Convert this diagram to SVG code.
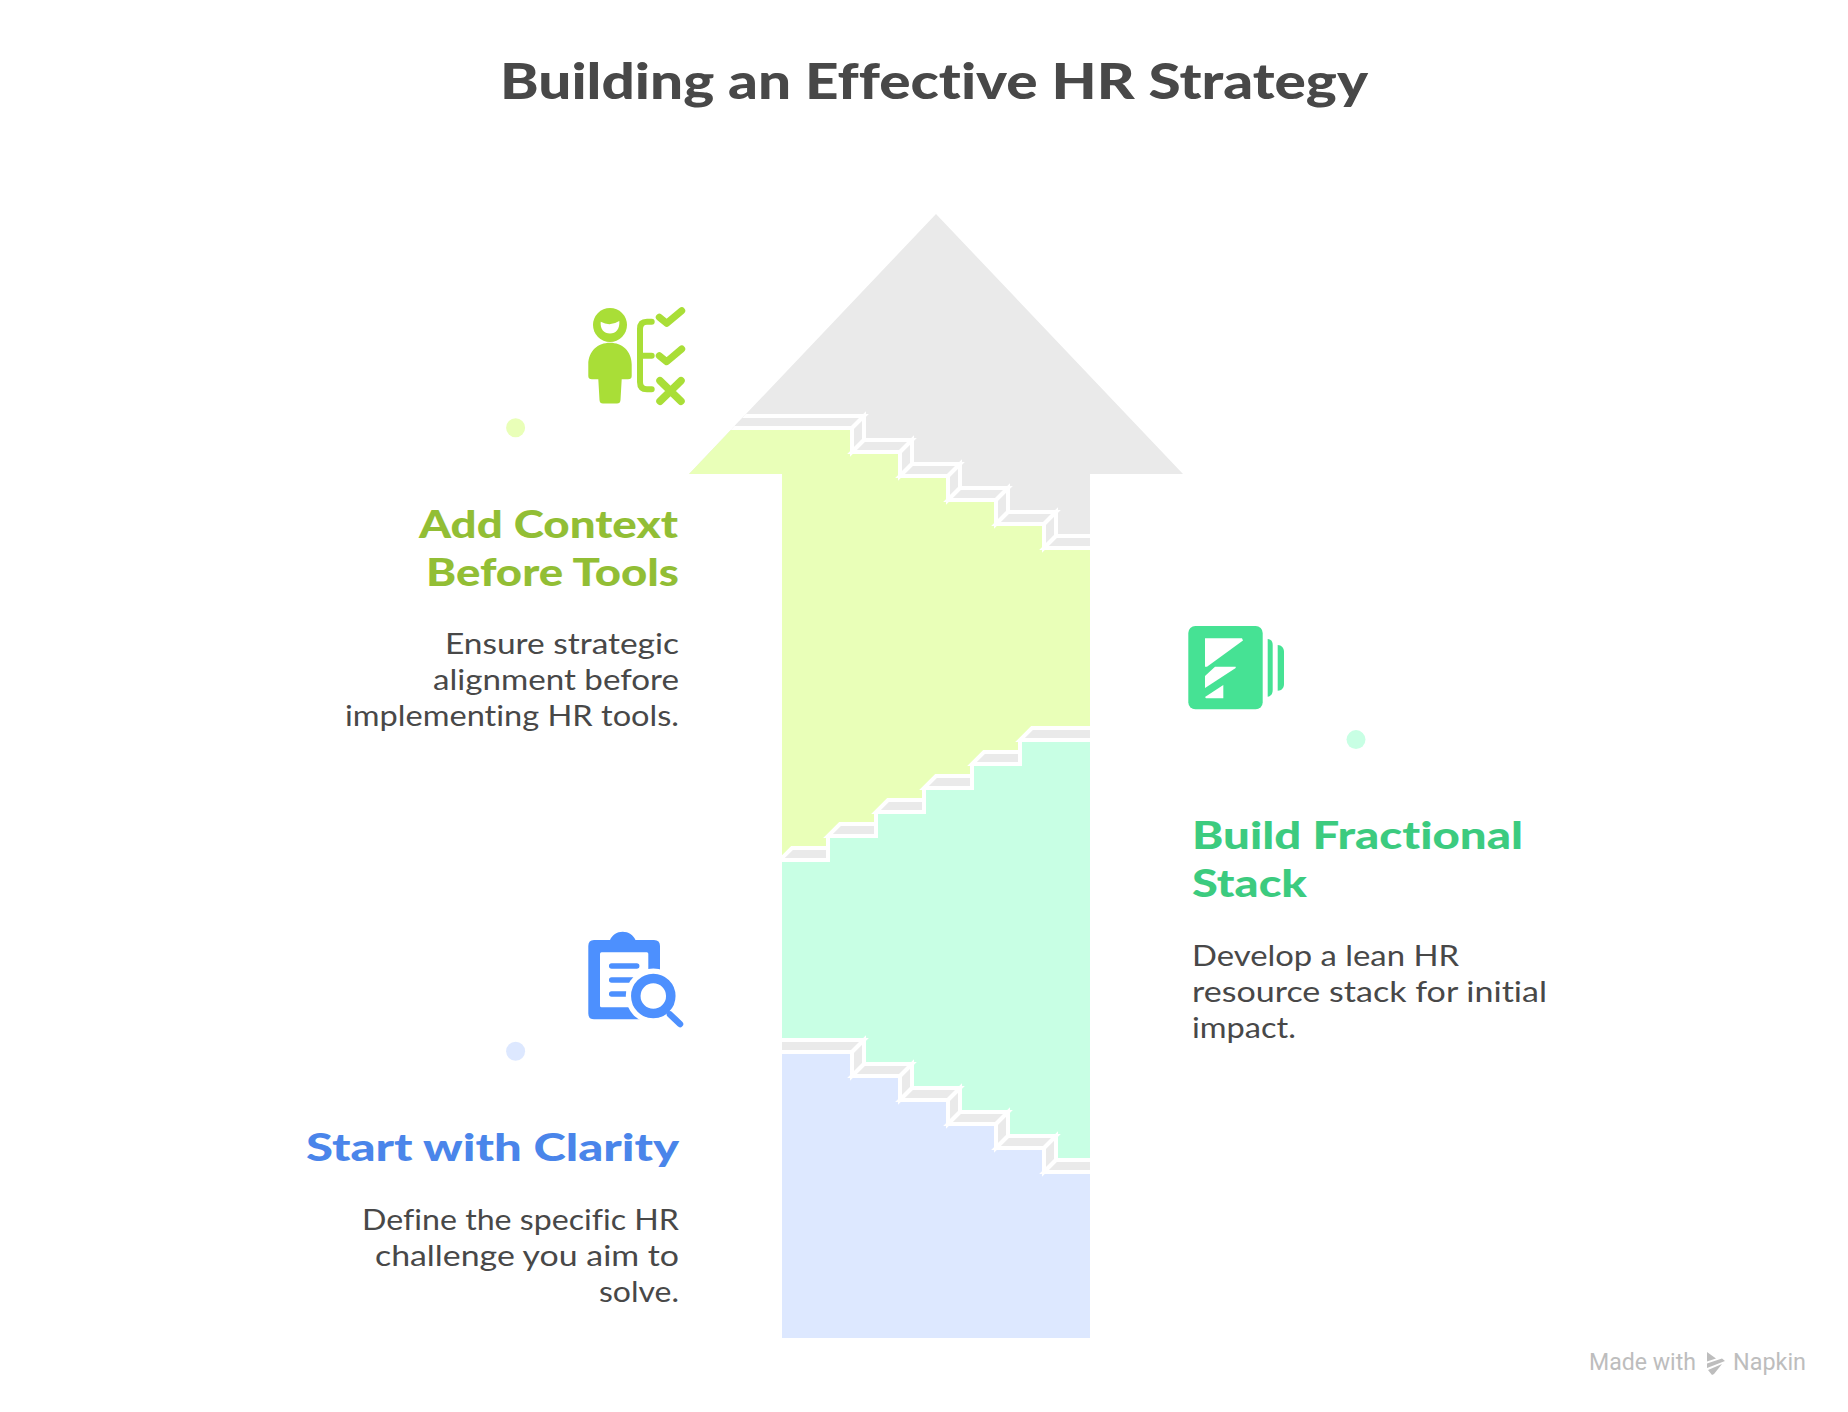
<svg xmlns="http://www.w3.org/2000/svg" width="1848" height="1412" viewBox="0 0 1848 1412">
<style>
text{font-family:"Lato","Noto Sans",sans-serif;font-variant-ligatures:none}
.t{font-size:50px;font-weight:900;fill:#484848}
.h{font-size:37px;font-weight:900}
.b{font-size:28px;fill:#484848}
.w{font-family:"Roboto",sans-serif;font-size:23px;fill:#bdbdbd}
.face{fill:#eaeaea;stroke:#fff;stroke-width:4;stroke-linejoin:miter}
.ln{fill:none;stroke:#fff;stroke-width:4}
.yi{fill:none;stroke:#a9de37;stroke-width:6;stroke-linecap:round;stroke-linejoin:round}
.bl{fill:none;stroke:#4d90fe;stroke-width:5.5;stroke-linecap:round}
</style>
<defs>
<clipPath id="arrowClip"><polygon points="936,214 1183,474 1090,474 1090,1338 782,1338 782,474 689,474"/></clipPath>
<g id="stepsDown">
<polygon class="face" points="700,428 852,428 864,416 712,416"/>
<polygon class="face" points="852,428 852,452 864,440 864,416"/>
<polygon class="face" points="852,452 900,452 912,440 864,440"/>
<polygon class="face" points="900,452 900,476 912,464 912,440"/>
<polygon class="face" points="900,476 948,476 960,464 912,464"/>
<polygon class="face" points="948,476 948,500 960,488 960,464"/>
<polygon class="face" points="948,500 996,500 1008,488 960,488"/>
<polygon class="face" points="996,500 996,524 1008,512 1008,488"/>
<polygon class="face" points="996,524 1044,524 1056,512 1008,512"/>
<polygon class="face" points="1044,524 1044,548 1056,536 1056,512"/>
<polygon class="face" points="1044,548 1100,548 1100,536 1056,536"/>
</g>
</defs>
<rect width="1848" height="1412" fill="#fff"/>
<text id="title" class="t" x="500" y="99" textLength="868" lengthAdjust="spacingAndGlyphs">Building an Effective HR Strategy</text>

<g id="arrow" clip-path="url(#arrowClip)">
<rect id="arrow-tip" x="680" y="200" width="510" height="360" fill="#eaeaea"/>
<path id="layer-context" fill="#e9ffb8" d="M680,430H850V454H898V478H946V502H994V526H1042V550H1100V900H770Z"/>
<use href="#stepsDown"/>
<path id="layer-stack" fill="#c8ffe4" d="M770,862H830V838H878V814H926V790H974V766H1022V742H1100V1200H770Z"/>
<g id="stepsUp">
<polygon class="face" points="780,860 828,860 828,848 792,848"/>
<polygon class="face" points="828,836 876,836 876,824 840,824"/>
<polygon class="face" points="876,812 924,812 924,800 888,800"/>
<polygon class="face" points="924,788 972,788 972,776 936,776"/>
<polygon class="face" points="972,764 1020,764 1020,752 984,752"/>
<polygon class="face" points="1020,740 1100,740 1100,728 1032,728"/>
<path class="ln" d="M828,862V836M876,838V812M924,814V788M972,790V764M1020,766V740"/>
</g>
<path id="layer-clarity" fill="#dde8ff" d="M770,1054H850V1078H898V1102H946V1126H994V1150H1042V1174H1100V1345H770Z"/>
<use href="#stepsDown" y="624"/>
</g>

<g id="node-context">
<circle cx="515.6" cy="427.8" r="9.5" fill="#e9ffb8"/>
<g id="icon-context">
<circle cx="610" cy="325" r="17" fill="#a9de37"/>
<path d="M600.700,321.700Q610,327 619.300,321C620,329 616,333.500 610,333.500C604,333.500 600,329 600.700,321.700Z" fill="#fff"/>
<path fill="#a9de37" d="M588.300,376V364.500C588.300,351 598,342.700 610,342.700C622,342.700 631.700,351 631.700,364.500V376Q631.700,379.300 628,379.300H621.700L620.500,400Q620.300,403.500 617,403.500H603Q599.700,403.500 599.500,400L598.300,379.300H592Q588.300,379.300 588.300,376Z"/>
<path class="yi" d="M651.700,321.700H647Q640,321.700 640,329V382Q640,389.300 647,389.300H651.700M640,355.700H651.700"/>
<path class="yi" style="stroke-width:7" d="M659.300,317.300L666.700,323.300L681.700,310.700M659.300,355.700L666.700,361.700L681.700,349"/>
<path class="yi" style="stroke-width:7.500" d="M660,380.700L681,401.200M681,380.700L660,401.200"/>
</g>
<text class="h" fill="#92be35" x="419" y="538" textLength="259" lengthAdjust="spacingAndGlyphs">Add Context</text>
<text class="h" fill="#92be35" x="426" y="586" textLength="253" lengthAdjust="spacingAndGlyphs">Before Tools</text>
<text class="b" x="445" y="654" textLength="234" lengthAdjust="spacingAndGlyphs">Ensure strategic</text>
<text class="b" x="433" y="690" textLength="246" lengthAdjust="spacingAndGlyphs">alignment before</text>
<text class="b" x="345" y="726" textLength="334" lengthAdjust="spacingAndGlyphs">implementing HR tools.</text>
</g>

<g id="node-stack">
<circle cx="1356" cy="739.600" r="9.500" fill="#c8ffe4"/>
<g id="icon-stack">
<rect x="1188.300" y="626" width="74.400" height="83.300" rx="7" fill="#46e294"/>
<path fill="#46e294" d="M1267.700,639C1270.500,639 1272.700,641 1272.700,645V690C1272.700,694 1270.500,696.700 1267.700,696.700Z"/>
<path fill="#46e294" d="M1277.700,645C1281.500,645 1284,648 1284,652V684C1284,688 1281.500,690.700 1277.700,690.700Z"/>
<path fill="#fff" d="M1205,638.300H1242L1243,640.500L1207,666.700H1205Z"/>
<path fill="#fff" d="M1205,676L1215,666.700H1235.700L1235.700,668L1205,688Z"/>
<path fill="#fff" d="M1205,697L1223.300,685V698.300H1206Z"/>
</g>
<text class="h" fill="#3ccb7f" x="1192" y="849" textLength="331" lengthAdjust="spacingAndGlyphs">Build Fractional</text>
<text class="h" fill="#3ccb7f" x="1192" y="897" textLength="115" lengthAdjust="spacingAndGlyphs">Stack</text>
<text class="b" x="1192" y="966" textLength="267" lengthAdjust="spacingAndGlyphs">Develop a lean HR</text>
<text class="b" x="1192" y="1002" textLength="355" lengthAdjust="spacingAndGlyphs">resource stack for initial</text>
<text class="b" x="1192" y="1038" textLength="104" lengthAdjust="spacingAndGlyphs">impact.</text>
</g>

<g id="node-clarity">
<circle cx="515.600" cy="1051.300" r="9.500" fill="#dde8ff"/>
<g id="icon-clarity">
<path fill="#4d90fe" d="M594,940H610C612,935 617,931.700 622.700,931.700C628.400,931.700 633.500,935 635.500,940H654Q660,940 660,946V990H640V1019.300H594Q588.300,1019.300 588.300,1013.500V946Q588.300,940 594,940Z"/>
<rect x="600" y="952.300" width="48.300" height="55" rx="1.500" fill="#fff"/>
<path class="bl" d="M611.700,966H636.700M611.700,980H633M611.700,994H626"/>
<circle cx="653.300" cy="996" r="27.500" fill="#fff"/>
<circle cx="653.300" cy="996" r="17.500" fill="none" stroke="#4d90fe" stroke-width="9.500"/>
<path d="M670,1014.500L680,1024" fill="none" stroke="#4d90fe" stroke-width="6.500" stroke-linecap="round"/>
</g>
<text class="h" fill="#4a85ea" x="306" y="1161" textLength="373" lengthAdjust="spacingAndGlyphs">Start with Clarity</text>
<text class="b" x="362" y="1230" textLength="317" lengthAdjust="spacingAndGlyphs">Define the specific HR</text>
<text class="b" x="375" y="1266" textLength="304" lengthAdjust="spacingAndGlyphs">challenge you aim to</text>
<text class="b" x="599" y="1302" textLength="80" lengthAdjust="spacingAndGlyphs">solve.</text>
</g>

<g id="watermark">
<text class="w" x="1589" y="1370" textLength="107" lengthAdjust="spacingAndGlyphs">Made with</text>
<path fill="#bdbdbd" d="M1707,1352L1716,1358.500L1707,1361.500ZM1707,1363.500L1722,1358.500L1725,1361L1707,1368ZM1708,1370L1722,1364L1714,1374L1712,1375Z"/>
<text class="w" x="1733" y="1370" textLength="73" lengthAdjust="spacingAndGlyphs">Napkin</text>
</g>
</svg>
